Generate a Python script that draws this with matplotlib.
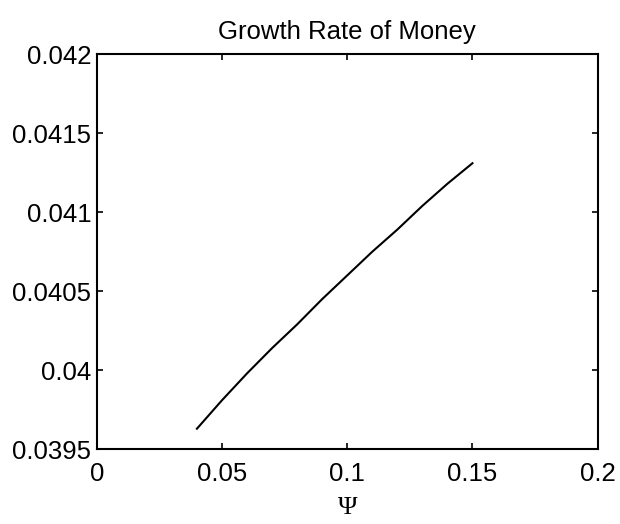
import matplotlib
matplotlib.use("Agg")
import matplotlib.pyplot as plt

psi = [0.04, 0.05, 0.06, 0.07, 0.08, 0.09, 0.10, 0.11, 0.12, 0.13, 0.14, 0.15]
growth = [0.03963, 0.03981, 0.03998, 0.04014, 0.04029, 0.04045,
          0.04060, 0.04075, 0.04089, 0.04104, 0.04118, 0.04131]

xticks = [0, 0.05, 0.1, 0.15, 0.2]
xticklabels = ["0", "0.05", "0.1", "0.15", "0.2"]
yticks = [0.0395, 0.04, 0.0405, 0.041, 0.0415, 0.042]
yticklabels = ["0.0395", "0.04", "0.0405", "0.041", "0.0415", "0.042"]

plt.rcParams['font.family'] = ['Liberation Sans', 'DejaVu Sans']

fig = plt.figure(figsize=(6.2, 5.24), dpi=100)
ax = fig.add_axes([0.156, 0.1426, 0.808, 0.754])
ax.plot(psi, growth, color='black', linewidth=1.5)
ax.set_xlim(0, 0.2)
ax.set_ylim(0.0395, 0.042)
ax.set_xticks(xticks)
ax.set_xticklabels(xticklabels)
ax.set_yticks(yticks)
ax.set_yticklabels(yticklabels)
ax.tick_params(direction='in', top=True, right=True, length=4.5, width=1.2,
               labelsize=18.5, colors='black')
ax.tick_params(axis='x', pad=9)
ax.tick_params(axis='y', pad=4)
for s in ax.spines.values():
    s.set_linewidth(1.5)
ax.set_title("Growth Rate of Money", fontsize=18.5, pad=11)
ax.set_xlabel("Ψ", fontsize=19, family=['Liberation Serif', 'DejaVu Serif'], labelpad=8)
fig.savefig("out.png", dpi=100)
